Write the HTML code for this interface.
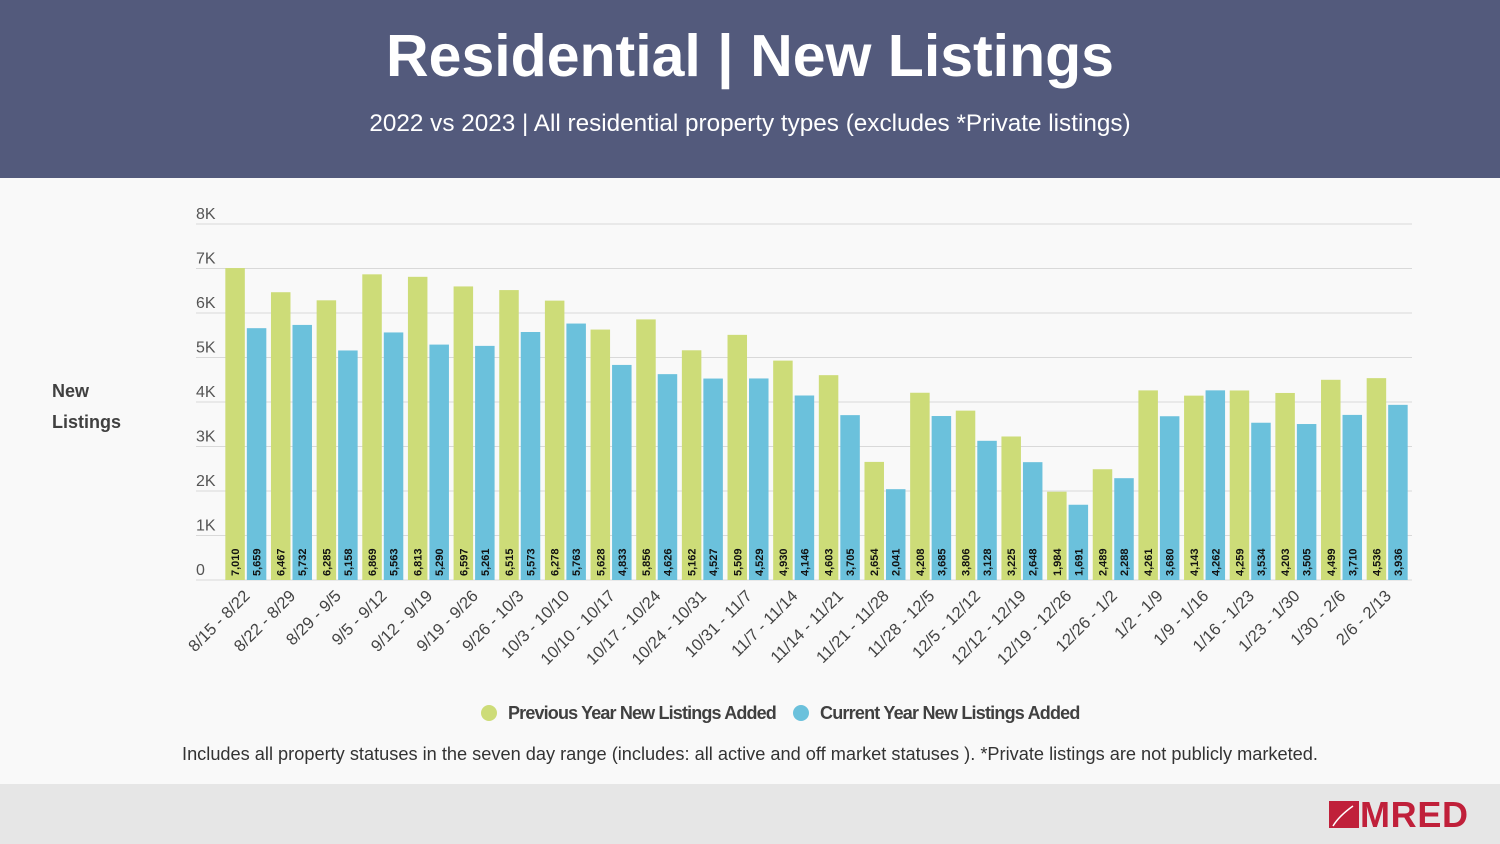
<!DOCTYPE html>
<html><head><meta charset="utf-8"><style>
body{margin:0;width:1500px;height:844px;overflow:hidden;background:#f9f9f9;font-family:"Liberation Sans",sans-serif;position:relative}
#hdr{position:absolute;left:0;top:0;width:1500px;height:178px;background:#535a7c;color:#fff;text-align:center}
#title{position:absolute;top:22px;width:100%;font-size:59px;font-weight:bold}
#sub{position:absolute;top:110px;width:100%;font-size:24.3px}
#ftr{position:absolute;left:0;top:784px;width:1500px;height:60px;background:#e6e6e6}
#note{position:absolute;top:744px;left:0;width:1500px;text-align:center;font-size:18.2px;color:#333}
#ytitle{position:absolute;left:52px;top:376px;font-size:18px;font-weight:bold;color:#404040;line-height:31px}
svg{position:absolute;left:0;top:0}
</style></head><body>
<div id="hdr">
<div id="title">Residential | New Listings</div>
<div id="sub">2022 vs 2023 | All residential property types (excludes *Private listings)</div>
</div>
<div id="ytitle">New<br>Listings</div>
<svg id="chart" width="1500" height="844"></svg>
<div id="note">Includes all property statuses in the seven day range (includes: all active and off market statuses ). *Private listings are not publicly marketed.</div>
<div id="ftr">
<svg width="160" height="40" style="left:1325px;top:12px">
<rect x="4" y="5" width="30" height="27" fill="#c0203a"/>
<path d="M8 30 Q14 20 28 10" stroke="#fff" stroke-width="1.5" fill="none"/>
<text x="35" y="31" font-family="Liberation Sans" font-weight="bold" font-size="36" fill="#c0203a" textLength="108">MRED</text>
</svg>
</div>
<script>
const categories=["8/15 - 8/22","8/22 - 8/29","8/29 - 9/5","9/5 - 9/12","9/12 - 9/19","9/19 - 9/26","9/26 - 10/3","10/3 - 10/10","10/10 - 10/17","10/17 - 10/24","10/24 - 10/31","10/31 - 11/7","11/7 - 11/14","11/14 - 11/21","11/21 - 11/28","11/28 - 12/5","12/5 - 12/12","12/12 - 12/19","12/19 - 12/26","12/26 - 1/2","1/2 - 1/9","1/9 - 1/16","1/16 - 1/23","1/23 - 1/30","1/30 - 2/6","2/6 - 2/13"];
const prevYear=[7010,6467,6285,6869,6813,6597,6515,6278,5628,5856,5162,5509,4930,4603,2654,4208,3806,3225,1984,2489,4261,4143,4259,4203,4499,4536];
const currYear=[5659,5732,5158,5563,5290,5261,5573,5763,4833,4626,4527,4529,4146,3705,2041,3685,3128,2648,1691,2288,3680,4262,3534,3505,3710,3936];
const yTicks=[0,1000,2000,3000,4000,5000,6000,7000,8000];
const yTickLabels=["0","1K","2K","3K","4K","5K","6K","7K","8K"];
const svg=document.getElementById('chart');const NS="http://www.w3.org/2000/svg";
const y0=580,y1=224,yMax=8000,xL=223,xR=1410,gl=196,gr=1412;
const y=v=>y0-(v/yMax)*(y0-y1);
const band=(xR-xL)/categories.length;
const x=i=>xL+i*band;
function mk(t,a,p){const e=document.createElementNS(NS,t);for(const k in a)e.setAttribute(k,a[k]);(p||svg).appendChild(e);return e;}
yTicks.forEach((v,i)=>{
 const l=mk('line',{x1:gl,x2:gr,y1:y(v),y2:y(v),stroke:'#d9d9d9','stroke-width':1});
 
 
 const t=mk('text',{x:196,y:y(v)-5,'font-size':16,fill:'#555'});t.textContent=yTickLabels[i];
 
 
});
const bw=19.5;
function fmt(v){return v.toLocaleString('en-US');}
categories.forEach((c,i)=>{
 const cx=x(i)+band/2;
 [[prevYear[i],'#cddc78',cx-bw-1],[currYear[i],'#6bc1dc',cx+1]].forEach((s,j)=>{
  const r=mk('rect',{x:s[2],y:y(s[0]),width:bw,height:y0-y(s[0]),fill:s[1]});
  
  
  const tx=s[2]+bw/2+4,ty=576;
  const t=mk('text',{x:tx,y:ty,transform:`rotate(-90 ${tx} ${ty})`,'font-size':11,'font-weight':'bold',fill:'#111'});
  t.textContent=fmt(s[0]);
  
  
 });
 const lx=cx-3,ly=589;
 const t=mk('text',{x:lx,y:ly,transform:`rotate(-45 ${lx} ${ly})`,'text-anchor':'end','font-size':16.5,fill:'#444','dominant-baseline':'hanging'});
 t.textContent=c;
 
 
});
const lg=[[489,'#cddc78','Previous Year New Listings Added',508],[801,'#6bc1dc','Current Year New Listings Added',820]];
lg.forEach(d=>{
 const g=mk('g',{});
 
 
 mk('circle',{cx:d[0],cy:713,r:8,fill:d[1]},g);
 const t=mk('text',{x:d[3],y:719,'font-size':18,'font-weight':'bold',fill:'#404040',textLength:d[2].length*8.4},g);t.textContent=d[2];
});
</script>
</body></html>
